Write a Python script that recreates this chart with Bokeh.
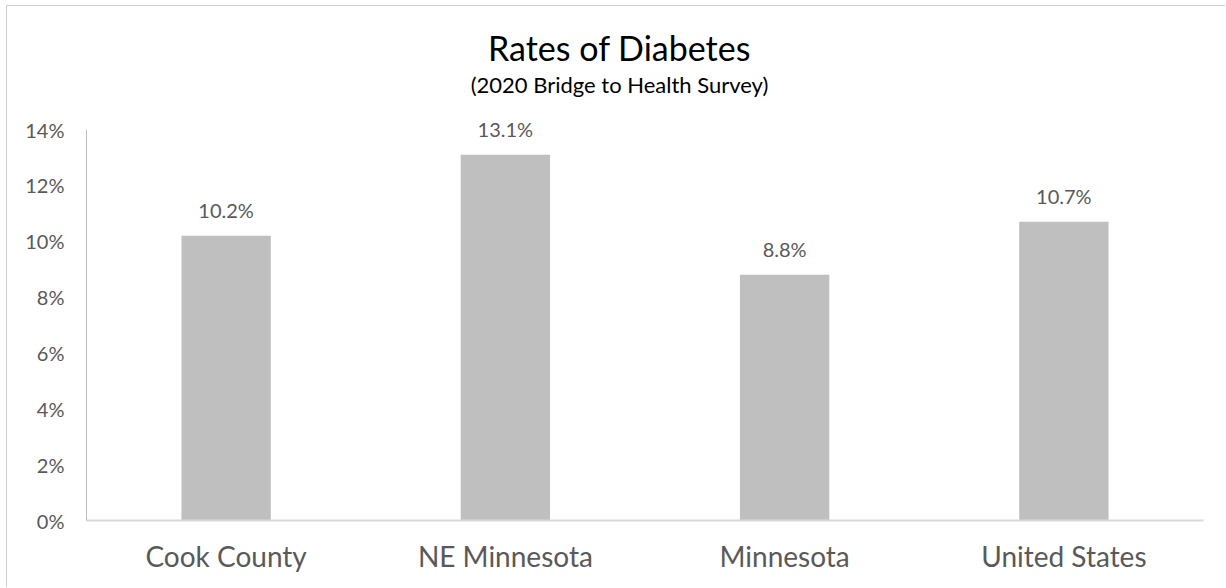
from bokeh.plotting import figure
from bokeh.models import (FactorRange, Range1d, FixedTicker, NumeralTickFormatter,
                          Label, ColumnDataSource)
from bokeh.core.properties import value
from bokeh.embed import file_html
from bokeh.resources import INLINE

# Survey results
categories = ["Cook County", "NE Minnesota", "Minnesota", "United States"]
rates = [0.102, 0.131, 0.088, 0.107]
y_ticks = [0.0, 0.02, 0.04, 0.06, 0.08, 0.10, 0.12, 0.14]
title_text = "Rates of Diabetes"
subtitle_text = "(2020 Bridge to Health Survey)"

FONT = "Lato"
TEXT_GREY = "#595959"

# Canvas sits inside a thin frame line drawn with CSS
W, H = 1219, 582
FRAME_L, FRAME_R, FRAME_B = 79, 23, 68
AXIS_TOP = 123                      # pixel row of the 14% tick
frame_h = H - FRAME_B               # plot frame reaches the canvas top
frame_w = W - FRAME_L - FRAME_R
axis_max = y_ticks[-1]
y_end = axis_max * frame_h / (frame_h - AXIS_TOP)


def y_at(px):
    """Data value at a given canvas pixel row."""
    return (frame_h - px) / (frame_h - AXIS_TOP) * axis_max


def x_at(px):
    """Categorical-axis coordinate at a given canvas pixel column."""
    return (px - FRAME_L) / frame_w * len(categories)


source = ColumnDataSource(dict(
    cat=categories,
    rate=rates,
    label=[f"{r * 100:.1f}%" for r in rates],
))

p = figure(
    width=W, height=H,
    x_range=FactorRange(*categories),
    y_range=Range1d(0, y_end),
    output_backend="svg",
    toolbar_location=None,
    min_border_left=FRAME_L, min_border_right=FRAME_R,
    min_border_top=0, min_border_bottom=FRAME_B,
    styles={"margin-left": "6px", "margin-top": "5px",
            "border-left": "1px solid #D0D0D0",
            "border-top": "1px solid #D0D0D0"},
)
p.outline_line_color = None
p.xgrid.grid_line_color = None
p.ygrid.grid_line_color = None
p.background_fill_color = "white"
p.border_fill_color = "white"

p.vbar(x="cat", top="rate", width=0.32, source=source,
       fill_color="#BFBFBF", line_color=None)

p.text(x="cat", y="rate", text="label", source=source,
       text_align="center", text_baseline="bottom", y_offset=-14,
       text_font=value(FONT), text_font_size="20px", text_color=TEXT_GREY)

# y axis
p.yaxis.ticker = FixedTicker(ticks=y_ticks)
p.yaxis.bounds = (0, axis_max)
p.yaxis.formatter = NumeralTickFormatter(format="0%")
p.yaxis.axis_line_color = "#BFBFBF"
p.yaxis.major_tick_line_color = None
p.yaxis.minor_tick_line_color = None
p.yaxis.major_tick_out = 0
p.yaxis.major_label_standoff = 22
p.yaxis.major_label_text_font = FONT
p.yaxis.major_label_text_font_size = "20px"
p.yaxis.major_label_text_color = TEXT_GREY

# x axis
p.xaxis.axis_line_color = "#D9D9D9"
p.xaxis.axis_line_width = 2
p.xaxis.major_tick_line_color = None
p.xaxis.minor_tick_line_color = None
p.xaxis.major_tick_out = 0
p.xaxis.major_label_standoff = 18
p.xaxis.major_label_text_font = FONT
p.xaxis.major_label_text_font_size = "28px"
p.xaxis.major_label_text_color = TEXT_GREY

# Title and subtitle, centred on the whole chart area
title_x = x_at(612)
p.add_layout(Label(x=title_x, y=y_at(41), text=title_text, text_align="center",
                   text_baseline="middle", text_font=FONT,
                   text_font_size="34px", text_color="#000000"))
p.add_layout(Label(x=title_x, y=y_at(78), text=subtitle_text, text_align="center",
                   text_baseline="middle", text_font=FONT,
                   text_font_size="22px", text_color="#000000"))

open("out.html", "w").write(file_html(p, INLINE))
